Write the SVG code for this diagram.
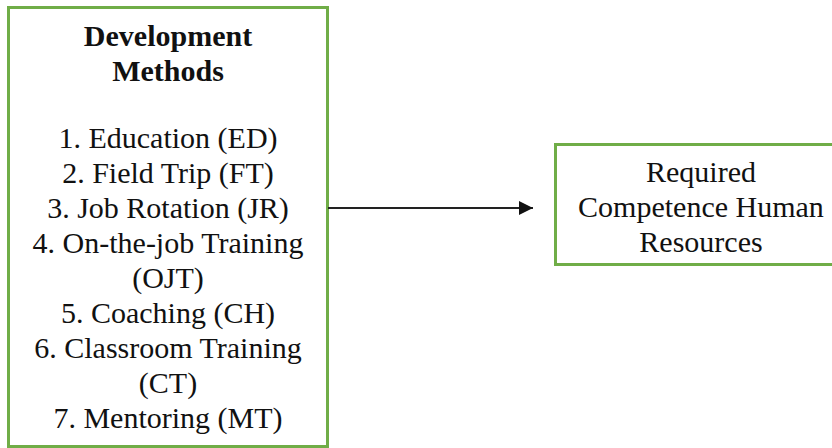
<svg xmlns="http://www.w3.org/2000/svg" width="832" height="448" viewBox="0 0 832 448">
  <defs>
    <style>
      .box { fill: #ffffff; stroke: #70ad47; stroke-width: 3; }
      .txt { font-size: 30px; fill: #111111; text-anchor: middle; }
      .bold { font-weight: bold; }
      .conn { stroke: #222222; stroke-width: 2; fill: none; }
    </style>
    <marker id="arrow" markerWidth="14" markerHeight="14" refX="14" refY="7" orient="auto" markerUnits="userSpaceOnUse">
      <path d="M0,0 L14,7 L0,14 Z" fill="#111111"/>
    </marker>
  </defs>
  <rect width="832" height="448" fill="#ffffff"/>

  <g font-family="Liberation Serif, Times New Roman, DejaVu Serif, serif">
    <g id="development-methods">
      <rect class="box" x="8.5" y="7.5" width="319" height="439"/>
      <text class="txt bold" x="168" y="46">Development</text>
      <text class="txt bold" x="168" y="81">Methods</text>
      <text class="txt" x="168" y="148">1. Education (ED)</text>
      <text class="txt" x="168" y="183">2. Field Trip (FT)</text>
      <text class="txt" x="168" y="218">3. Job Rotation (JR)</text>
      <text class="txt" x="168" y="253">4. On-the-job Training</text>
      <text class="txt" x="168" y="288">(OJT)</text>
      <text class="txt" x="168" y="323">5. Coaching (CH)</text>
      <text class="txt" x="168" y="358">6. Classroom Training</text>
      <text class="txt" x="168" y="393">(CT)</text>
      <text class="txt" x="168" y="428">7. Mentoring (MT)</text>
    </g>

    <g id="required-competence">
      <rect class="box" x="555.5" y="144.5" width="300" height="120"/>
      <text class="txt" x="701" y="182">Required</text>
      <text class="txt" x="701" y="217">Competence Human</text>
      <text class="txt" x="701" y="252">Resources</text>
    </g>
  </g>

  <g id="connectors">
    <line class="conn" x1="328" y1="208" x2="533" y2="208" marker-end="url(#arrow)"/>
  </g>
</svg>
